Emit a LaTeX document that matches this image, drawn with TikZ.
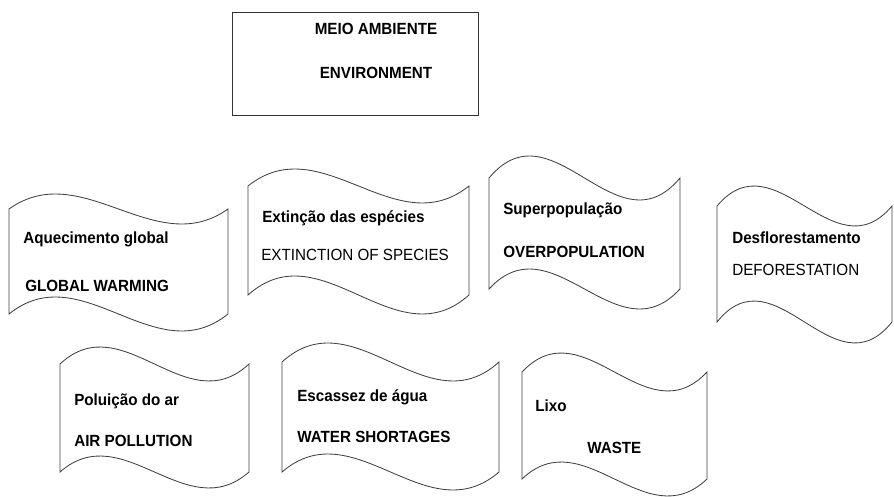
\documentclass[tikz,border=0pt]{standalone}
\usepackage{fontspec}
\setmainfont{Liberation Sans}[FakeStretch=0.94]
% wave: left, right, top mid, top bend, bottom mid, bottom bend
\newcommand{\wavebox}[6]{%
  \draw[wave]
    (#1,#3) .. controls ({#1+(#2-#1)/3},{#3-3.46*#4}) and ({#1+2*(#2-#1)/3},{#3+3.46*#4}) .. (#2,#3)
    -- (#2,#5) .. controls ({#2-(#2-#1)/3},{#5+3.46*#6}) and ({#2-2*(#2-#1)/3},{#5-3.46*#6}) .. (#1,#5)
    -- cycle;}
\tikzset{
  wave/.style={draw=black!75, line width=0.6pt},
  txt/.style={anchor=base west, inner sep=0pt, font=\fontsize{11.5}{13}\selectfont},
  btxt/.style={txt, font=\fontsize{11.5}{13}\selectfont\bfseries}
}
\begin{document}
\begin{tikzpicture}[x=0.025cm, y=-0.025cm]
      \useasboundingbox (0,0) rectangle (894,497);
      \draw[black!80, line width=0.6pt] (232,12) rectangle (478,115);
      \node[btxt, anchor=base] (meio) at (376,35) {MEIO AMBIENTE};
      \node[btxt, anchor=base] (env) at (376,79) {ENVIRONMENT};
      \begin{scope}
        \wavebox{9}{228}{209}{15}{314}{17}
        \wavebox{248}{469}{186}{17}{295}{19}
        \wavebox{489}{680}{178}{22}{289}{20}
        \wavebox{717}{892}{206}{20}{322}{21}
        \wavebox{60}{249}{364}{17}{472}{16}
        \wavebox{282}{499}{362}{19}{472}{18}
        \wavebox{522}{707}{372}{19}{479}{17}
      \end{scope}
      \node[btxt] (aq) at (23,244) {Aquecimento global};
      \node[btxt] (gw) at (25,292) {GLOBAL WARMING};
      \node[btxt] (ext) at (262,223) {Extinção das espécies};
      \node[txt] (eos) at (261,261) {EXTINCTION OF SPECIES};
      \node[btxt] (sup) at (503,215) {Superpopulação};
      \node[btxt] (ovp) at (503,258) {OVERPOPULATION};
      \node[btxt] (des) at (732,244) {Desflorestamento};
      \node[txt] (def) at (732,276) {DEFORESTATION};
      \node[btxt] (pol) at (74,405) {Poluição do ar};
      \node[btxt] (air) at (74,447) {AIR POLLUTION};
      \node[btxt] (esc) at (297,402) {Escassez de água};
      \node[btxt] (wat) at (297,442) {WATER SHORTAGES};
      \node[btxt] (lix) at (535,412) {Lixo};
      \node[btxt] (was) at (587,453) {WASTE};
    \end{tikzpicture}
\end{document}
